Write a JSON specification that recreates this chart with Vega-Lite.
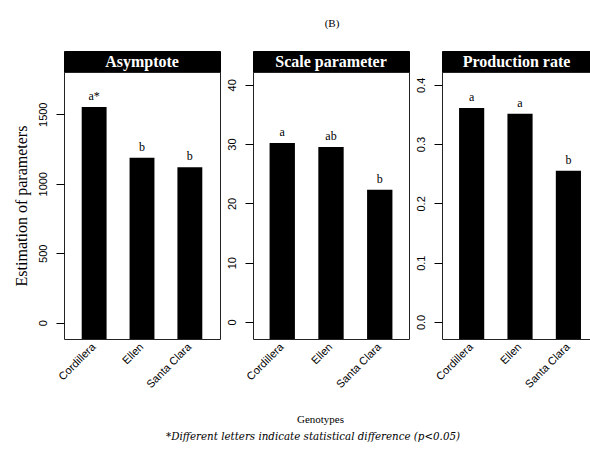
{
  "$schema": "https://vega.github.io/schema/vega-lite/v6.json",
  "background": "white",
  "padding": {"left": 12, "top": 17, "right": 0, "bottom": 0},
  "title": {"text": "(B)", "anchor": "middle", "font": "Liberation Serif", "fontSize": 11, "fontWeight": "normal", "color": "black", "offset": 22, "dx": 30},
  "config": {
    "view": {"stroke": null},
    "axis": {
      "labelFont": "Liberation Sans",
      "labelFontSize": 11,
      "labelColor": "black",
      "tickColor": "black",
      "domain": false,
      "grid": false,
      "titleFont": "Liberation Serif",
      "titleFontWeight": "normal",
      "titleColor": "black"
    },
    "axisX": {"labelAngle": -45, "labelAlign": "right", "labelBaseline": "middle", "ticks": false, "labelPadding": 6},
    "axisY": {"labelAngle": 270, "labelAlign": "center", "labelBaseline": "bottom", "tickSize": 8, "labelPadding": 8}
  },
  "datasets": {
    "b": [
      {"panel": "Asymptote", "genotype": "Cordillera", "value": 1552, "letter": "a*"},
      {"panel": "Asymptote", "genotype": "Ellen", "value": 1187, "letter": "b"},
      {"panel": "Asymptote", "genotype": "Santa Clara", "value": 1119, "letter": "b"},
      {"panel": "Scale parameter", "genotype": "Cordillera", "value": 30.2, "letter": "a"},
      {"panel": "Scale parameter", "genotype": "Ellen", "value": 29.5, "letter": "ab"},
      {"panel": "Scale parameter", "genotype": "Santa Clara", "value": 22.3, "letter": "b"},
      {"panel": "Production rate", "genotype": "Cordillera", "value": 0.361, "letter": "a"},
      {"panel": "Production rate", "genotype": "Ellen", "value": 0.351, "letter": "a"},
      {"panel": "Production rate", "genotype": "Santa Clara", "value": 0.255, "letter": "b"}
    ]
  },
  "spacing": 4,
  "vconcat": [
    {
      "spacing": 4,
      "hconcat": [
        {
          "bounds": "flush",
          "spacing": 0,
          "vconcat": [
            {
              "width": 156, "height": 21,
              "view": {"fill": "black", "stroke": "black"},
              "data": {"values": [{"panel": "Asymptote"}]},
              "mark": {"type": "text", "color": "white", "font": "Liberation Serif", "fontSize": 16, "fontWeight": "bold"},
              "encoding": {"text": {"field": "panel"}}
            },
            {
              "width": 156, "height": 267,
              "view": {"stroke": "#222", "strokeWidth": 1},
              "data": {"name": "b"},
              "transform": [{"filter": "datum.panel == 'Asymptote'"}],
              "encoding": {
                "x": {"field": "genotype", "type": "nominal", "sort": null,
                      "scale": {"paddingInner": 0.48, "paddingOuter": 0.37},
                      "axis": {"title": null}},
                "y": {"field": "value", "type": "quantitative",
                      "scale": {"domain": [-117, 1804], "nice": false, "zero": false},
                      "axis": {"values": [0, 500, 1000, 1500], "format": "d", "title": "Estimation of parameters", "titleFontSize": 16, "titlePadding": 8}}
              },
              "layer": [
                {"mark": {"type": "bar", "color": "black"}, "encoding": {"y2": {"datum": -117}}},
                {"mark": {"type": "text", "baseline": "bottom", "dy": -4, "font": "Liberation Serif", "fontSize": 12, "color": "black"},
                 "encoding": {"text": {"field": "letter"}}}
              ]
            }
          ]
        },
        {
          "bounds": "flush",
          "spacing": 0,
          "vconcat": [
            {
              "width": 156, "height": 21,
              "view": {"fill": "black", "stroke": "black"},
              "data": {"values": [{"panel": "Scale parameter"}]},
              "mark": {"type": "text", "color": "white", "font": "Liberation Serif", "fontSize": 16, "fontWeight": "bold"},
              "encoding": {"text": {"field": "panel"}}
            },
            {
              "width": 156, "height": 267,
              "view": {"stroke": "#222", "strokeWidth": 1},
              "data": {"name": "b"},
              "transform": [{"filter": "datum.panel == 'Scale parameter'"}],
              "encoding": {
                "x": {"field": "genotype", "type": "nominal", "sort": null,
                      "scale": {"paddingInner": 0.48, "paddingOuter": 0.34},
                      "axis": {"title": "Genotypes", "titleFontSize": 11, "titlePadding": 24, "titleX": 67}},
                "y": {"field": "value", "type": "quantitative",
                      "scale": {"domain": [-2.87, 42.16], "nice": false, "zero": false},
                      "axis": {"values": [0, 10, 20, 30, 40], "title": null}}
              },
              "layer": [
                {"mark": {"type": "bar", "color": "black"}, "encoding": {"y2": {"datum": -2.87}}},
                {"mark": {"type": "text", "baseline": "bottom", "dy": -4, "font": "Liberation Serif", "fontSize": 12, "color": "black"},
                 "encoding": {"text": {"field": "letter"}}}
              ]
            }
          ]
        },
        {
          "bounds": "flush",
          "spacing": 0,
          "vconcat": [
            {
              "width": 149, "height": 21,
              "view": {"fill": "black", "stroke": "black"},
              "data": {"values": [{"panel": "Production rate"}]},
              "mark": {"type": "text", "color": "white", "font": "Liberation Serif", "fontSize": 16, "fontWeight": "bold"},
              "encoding": {"text": {"field": "panel"}}
            },
            {
              "width": 149, "height": 267,
              "view": {"stroke": "#222", "strokeWidth": 1},
              "data": {"name": "b"},
              "transform": [{"filter": "datum.panel == 'Production rate'"}],
              "encoding": {
                "x": {"field": "genotype", "type": "nominal", "sort": null,
                      "scale": {"paddingInner": 0.48, "paddingOuter": 0.28, "align": 0.63},
                      "axis": {"title": null}},
                "y": {"field": "value", "type": "quantitative",
                      "scale": {"domain": [-0.0287, 0.4216], "nice": false, "zero": false},
                      "axis": {"values": [0, 0.1, 0.2, 0.3, 0.4], "format": ".1f", "title": null}}
              },
              "layer": [
                {"mark": {"type": "bar", "color": "black"}, "encoding": {"y2": {"datum": -0.0287}}},
                {"mark": {"type": "text", "baseline": "bottom", "dy": -4, "font": "Liberation Serif", "fontSize": 12, "color": "black"},
                 "encoding": {"text": {"field": "letter"}}}
              ]
            }
          ]
        }
      ]
    },
    {
      "width": 498, "height": 14,
      "data": {"values": [{"note": "*Different letters indicate statistical difference (p<0.05)"}]},
      "mark": {"type": "text", "font": "DejaVu Serif", "fontSize": 10.3, "fontStyle": "italic", "color": "black"},
      "encoding": {"text": {"field": "note"}}
    }
  ]
}
